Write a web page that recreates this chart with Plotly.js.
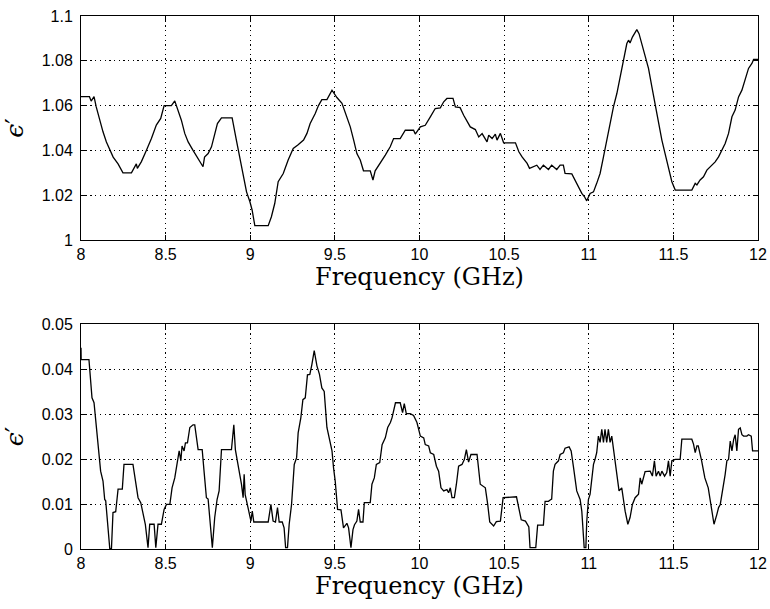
<!DOCTYPE html>
<html>
<head>
<meta charset="utf-8">
<script src="https://cdn.plot.ly/plotly-3.0.1.min.js"></script>
<style>
  html, body { margin: 0; padding: 0; background: #fff; }
  #chart { width: 770px; height: 609px; }
</style>
</head>
<body>
<div id="chart"></div>
<script>
// ---- Data ----
// Upper panel: real permittivity vs frequency
const freqTop = [
  8.000, 8.050, 8.060, 8.077, 8.090, 8.110, 8.130, 8.150, 8.170, 8.190,
  8.219, 8.248, 8.298, 8.327, 8.333, 8.357, 8.386, 8.416, 8.445, 8.471,
  8.491, 8.534, 8.554, 8.574, 8.593, 8.613, 8.633, 8.662, 8.692, 8.721,
  8.730, 8.751, 8.771, 8.790, 8.806, 8.830, 8.893, 8.918, 8.938, 8.958,
  8.978, 8.998, 9.011, 9.027, 9.106, 9.125, 9.145, 9.165, 9.195, 9.224,
  9.254, 9.283, 9.315, 9.335, 9.354, 9.384, 9.403, 9.423, 9.453, 9.483,
  9.512, 9.542, 9.561, 9.591, 9.611, 9.630, 9.650, 9.669, 9.709, 9.725,
  9.738, 9.768, 9.798, 9.827, 9.847, 9.886, 9.916, 9.965, 9.975, 10.005,
  10.034, 10.064, 10.093, 10.123, 10.143, 10.162, 10.198, 10.212, 10.240, 10.261,
  10.281, 10.300, 10.330, 10.350, 10.370, 10.389, 10.399, 10.409, 10.429, 10.448,
  10.458, 10.478, 10.497, 10.567, 10.587, 10.606, 10.636, 10.650, 10.693, 10.712,
  10.732, 10.762, 10.781, 10.811, 10.831, 10.850, 10.860, 10.900, 10.919, 10.939,
  10.959, 10.975, 10.988, 11.008, 11.028, 11.047, 11.067, 11.087, 11.106, 11.126,
  11.146, 11.166, 11.185, 11.205, 11.225, 11.235, 11.244, 11.258, 11.270, 11.284,
  11.297, 11.313, 11.333, 11.353, 11.373, 11.392, 11.412, 11.432, 11.451, 11.471,
  11.491, 11.511, 11.609, 11.629, 11.639, 11.658, 11.678, 11.698, 11.727, 11.747,
  11.767, 11.787, 11.806, 11.826, 11.846, 11.865, 11.885, 11.905, 11.925, 11.944,
  11.964, 11.974, 12.000
];
const epsTop = [
  1.0640, 1.0640, 1.0620, 1.0640, 1.0594, 1.0535, 1.0483, 1.0438, 1.0400, 1.0370,
  1.0340, 1.0300, 1.0300, 1.0340, 1.0320, 1.0350, 1.0400, 1.0453, 1.0513, 1.0543,
  1.0600, 1.0600, 1.0621, 1.0580, 1.0535, 1.0476, 1.0438, 1.0400, 1.0364, 1.0327,
  1.0370, 1.0386, 1.0416, 1.0468, 1.0520, 1.0545, 1.0545, 1.0446, 1.0370, 1.0282,
  1.0215, 1.0171, 1.0134, 1.0064, 1.0064, 1.0104, 1.0164, 1.0260, 1.0297, 1.0357,
  1.0409, 1.0425, 1.0446, 1.0476, 1.0520, 1.0565, 1.0600, 1.0627, 1.0627, 1.0669,
  1.0636, 1.0610, 1.0565, 1.0505, 1.0446, 1.0386, 1.0357, 1.0309, 1.0309, 1.0268,
  1.0309, 1.0342, 1.0379, 1.0416, 1.0453, 1.0453, 1.0490, 1.0490, 1.0473, 1.0505,
  1.0512, 1.0550, 1.0587, 1.0590, 1.0617, 1.0632, 1.0632, 1.0594, 1.0591, 1.0557,
  1.0527, 1.0505, 1.0493, 1.0460, 1.0475, 1.0453, 1.0438, 1.0468, 1.0453, 1.0473,
  1.0446, 1.0476, 1.0434, 1.0434, 1.0394, 1.0371, 1.0342, 1.0320, 1.0334, 1.0315,
  1.0334, 1.0315, 1.0334, 1.0315, 1.0334, 1.0334, 1.0297, 1.0295, 1.0268, 1.0238,
  1.0208, 1.0193, 1.0175, 1.0208, 1.0215, 1.0253, 1.0297, 1.0371, 1.0446, 1.0513,
  1.0594, 1.0654, 1.0728, 1.0802, 1.0877, 1.0892, 1.0880, 1.0906, 1.0921, 1.0939,
  1.0921, 1.0877, 1.0832, 1.0766, 1.0684, 1.0610, 1.0520, 1.0446, 1.0386, 1.0327,
  1.0260, 1.0223, 1.0223, 1.0253, 1.0246, 1.0268, 1.0282, 1.0312, 1.0334, 1.0349,
  1.0371, 1.0400, 1.0431, 1.0476, 1.0550, 1.0580, 1.0639, 1.0669, 1.0720, 1.0766,
  1.0788, 1.0806, 1.0806
];

// Lower panel
const freqBottom = [
  8.000, 8.001, 8.047, 8.057, 8.065, 8.077, 8.090, 8.105, 8.116, 8.130,
  8.140, 8.146, 8.170, 8.180, 8.189, 8.205, 8.219, 8.244, 8.254, 8.307,
  8.327, 8.337, 8.353, 8.367, 8.380, 8.396, 8.406, 8.432, 8.442, 8.455,
  8.475, 8.491, 8.505, 8.525, 8.538, 8.554, 8.568, 8.580, 8.590, 8.597,
  8.609, 8.617, 8.629, 8.643, 8.662, 8.672, 8.692, 8.716, 8.727, 8.741,
  8.751, 8.761, 8.776, 8.790, 8.804, 8.816, 8.830, 8.889, 8.903, 8.912,
  8.928, 8.948, 8.958, 8.964, 8.970, 8.978, 8.992, 9.004, 9.012, 9.021,
  9.106, 9.122, 9.135, 9.149, 9.161, 9.171, 9.189, 9.200, 9.209, 9.220,
  9.230, 9.244, 9.260, 9.274, 9.283, 9.299, 9.311, 9.325, 9.338, 9.352,
  9.364, 9.378, 9.394, 9.409, 9.423, 9.437, 9.453, 9.468, 9.483, 9.492,
  9.502, 9.516, 9.536, 9.551, 9.571, 9.581, 9.595, 9.607, 9.616, 9.630,
  9.640, 9.650, 9.666, 9.674, 9.709, 9.719, 9.733, 9.745, 9.765, 9.779,
  9.798, 9.812, 9.828, 9.838, 9.858, 9.886, 9.900, 9.910, 9.922, 9.945,
  9.965, 9.985, 10.005, 10.025, 10.034, 10.054, 10.064, 10.084, 10.100, 10.113,
  10.127, 10.143, 10.162, 10.172, 10.182, 10.192, 10.206, 10.218, 10.231, 10.251,
  10.265, 10.277, 10.290, 10.304, 10.340, 10.359, 10.375, 10.389, 10.403, 10.415,
  10.438, 10.454, 10.478, 10.494, 10.573, 10.587, 10.601, 10.626, 10.646, 10.653,
  10.687, 10.698, 10.732, 10.742, 10.762, 10.772, 10.781, 10.791, 10.801, 10.821,
  10.831, 10.850, 10.860, 10.884, 10.896, 10.909, 10.929, 10.949, 10.959, 10.973,
  10.983, 10.988, 10.998, 11.008, 11.028, 11.037, 11.047, 11.057, 11.067, 11.077,
  11.087, 11.096, 11.106, 11.116, 11.126, 11.136, 11.152, 11.166, 11.179, 11.195,
  11.215, 11.231, 11.244, 11.258, 11.274, 11.294, 11.304, 11.313, 11.323, 11.333,
  11.363, 11.376, 11.388, 11.398, 11.412, 11.422, 11.432, 11.448, 11.461, 11.471,
  11.481, 11.491, 11.511, 11.540, 11.550, 11.609, 11.619, 11.629, 11.639, 11.647,
  11.667, 11.686, 11.706, 11.716, 11.730, 11.740, 11.757, 11.767, 11.777, 11.787,
  11.796, 11.806, 11.816, 11.826, 11.836, 11.846, 11.856, 11.865, 11.875, 11.885,
  11.895, 11.905, 11.915, 11.934, 11.944, 11.960, 11.968, 12.000
];
const epsBottom = [
  0.0447, 0.0421, 0.0421, 0.0366, 0.0336, 0.0325, 0.0277, 0.0225, 0.0173, 0.0151,
  0.0110, 0.0107, 0.0001, 0.0001, 0.0081, 0.0083, 0.0133, 0.0133, 0.0188, 0.0188,
  0.0144, 0.0114, 0.0103, 0.0077, 0.0055, 0.0003, 0.0055, 0.0055, 0.0003, 0.0055,
  0.0055, 0.0088, 0.0099, 0.0099, 0.0136, 0.0158, 0.0196, 0.0218, 0.0196, 0.0229,
  0.0218, 0.0236, 0.0236, 0.0270, 0.0276, 0.0276, 0.0221, 0.0221, 0.0173, 0.0114,
  0.0111, 0.0070, 0.0003, 0.0070, 0.0110, 0.0129, 0.0221, 0.0221, 0.0276, 0.0221,
  0.0188, 0.0144, 0.0114, 0.0166, 0.0121, 0.0106, 0.0084, 0.0062, 0.0084, 0.0060,
  0.0060, 0.0099, 0.0062, 0.0060, 0.0092, 0.0060, 0.0060, 0.0047, 0.0003, 0.0003,
  0.0055, 0.0099, 0.0188, 0.0203, 0.0258, 0.0292, 0.0332, 0.0336, 0.0387, 0.0388,
  0.0410, 0.0441, 0.0407, 0.0388, 0.0358, 0.0350, 0.0270, 0.0240, 0.0218, 0.0181,
  0.0151, 0.0088, 0.0087, 0.0047, 0.0057, 0.0047, 0.0003, 0.0043, 0.0054, 0.0062,
  0.0088, 0.0060, 0.0060, 0.0103, 0.0103, 0.0144, 0.0158, 0.0188, 0.0192, 0.0232,
  0.0247, 0.0270, 0.0281, 0.0292, 0.0325, 0.0325, 0.0303, 0.0323, 0.0301, 0.0301,
  0.0297, 0.0281, 0.0251, 0.0247, 0.0232, 0.0229, 0.0214, 0.0210, 0.0184, 0.0173,
  0.0136, 0.0129, 0.0132, 0.0125, 0.0136, 0.0114, 0.0114, 0.0144, 0.0184, 0.0188,
  0.0199, 0.0221, 0.0193, 0.0210, 0.0210, 0.0144, 0.0140, 0.0136, 0.0099, 0.0060,
  0.0051, 0.0061, 0.0062, 0.0114, 0.0116, 0.0092, 0.0065, 0.0062, 0.0049, 0.0003,
  0.0003, 0.0053, 0.0053, 0.0106, 0.0106, 0.0109, 0.0111, 0.0173, 0.0188, 0.0196,
  0.0210, 0.0214, 0.0224, 0.0227, 0.0218, 0.0184, 0.0129, 0.0110, 0.0084, 0.0003,
  0.0003, 0.0060, 0.0110, 0.0122, 0.0188, 0.0199, 0.0214, 0.0251, 0.0237, 0.0266,
  0.0237, 0.0266, 0.0237, 0.0266, 0.0237, 0.0251, 0.0203, 0.0166, 0.0129, 0.0136,
  0.0084, 0.0055, 0.0070, 0.0099, 0.0114, 0.0122, 0.0158, 0.0144, 0.0162, 0.0172,
  0.0173, 0.0162, 0.0196, 0.0162, 0.0173, 0.0162, 0.0173, 0.0162, 0.0170, 0.0196,
  0.0162, 0.0196, 0.0199, 0.0199, 0.0244, 0.0244, 0.0233, 0.0214, 0.0229, 0.0229,
  0.0196, 0.0158, 0.0136, 0.0111, 0.0077, 0.0055, 0.0077, 0.0092, 0.0099, 0.0122,
  0.0136, 0.0166, 0.0196, 0.0199, 0.0240, 0.0218, 0.0243, 0.0254, 0.0218, 0.0266,
  0.0269, 0.0254, 0.0251, 0.0251, 0.0254, 0.0251, 0.0218, 0.0218
];

// Tick values and labels
const xTickVals = [8, 8.5, 9, 9.5, 10, 10.5, 11, 11.5, 12];
const xTickText = ['8', '8.5', '9', '9.5', '10', '10.5', '11', '11.5', '12'];
const topYTickVals = [1, 1.02, 1.04, 1.06, 1.08, 1.1];
const topYTickText = ['1', '1.02', '1.04', '1.06', '1.08', '1.1'];
const bottomYTickVals = [0, 0.01, 0.02, 0.03, 0.04, 0.05];
const bottomYTickText = ['0', '0.01', '0.02', '0.03', '0.04', '0.05'];

const xTitle = 'Frequency (GHz)';
const yTitle = '<i>ϵ</i>′';

// ---- Styling ----
const tickFont = { family: '"Liberation Sans", Arial, Helvetica, sans-serif', size: 16, color: '#000' };
const xTitleFont = { family: '"DejaVu Serif", "Liberation Serif", serif', size: 24, color: '#000' };
const yTitleFont = { family: '"DejaVu Serif", "Liberation Serif", serif', size: 25, color: '#000' };

function xAxis(anchor) {
  return {
    anchor: anchor,
    range: [8, 12],
    tickmode: 'array', tickvals: xTickVals, ticktext: xTickText,
    ticks: 'inside', ticklen: 5, tickcolor: '#000', tickwidth: 1,
    showline: true, linecolor: '#000', linewidth: 1, mirror: 'ticks',
    showgrid: true, gridcolor: '#000', gridwidth: 1, griddash: '1.3px,3.4px',
    zeroline: false, tickfont: tickFont, ticklabelstandoff: 0,
    title: { text: xTitle, font: xTitleFont, standoff: 4 }
  };
}
function yAxis(anchor, range, vals, text) {
  return {
    anchor: anchor,
    range: range,
    tickmode: 'array', tickvals: vals, ticktext: text,
    ticks: 'inside', ticklen: 5, tickcolor: '#000', tickwidth: 1,
    showline: true, linecolor: '#000', linewidth: 1, mirror: 'ticks',
    showgrid: true, gridcolor: '#000', gridwidth: 1, griddash: '1.3px,3.4px',
    zeroline: false, tickfont: tickFont, ticklabelstandoff: 4,
    title: { text: yTitle, font: yTitleFont, standoff: 20 }
  };
}

const lineStyle = { color: '#000', width: 1.3, shape: 'linear' };

const traces = [
  { x: freqTop, y: epsTop, type: 'scatter', mode: 'lines', line: lineStyle, xaxis: 'x', yaxis: 'y', hoverinfo: 'x+y' },
  { x: freqBottom, y: epsBottom, type: 'scatter', mode: 'lines', line: lineStyle, xaxis: 'x2', yaxis: 'y2', hoverinfo: 'x+y' }
];

const xa1 = xAxis('y'); xa1.domain = [0, 1];
const xa2 = xAxis('y2'); xa2.domain = [0, 1];
const ya1 = yAxis('x', [1, 1.1], topYTickVals, topYTickText); ya1.domain = [0.5797, 1];
const ya2 = yAxis('x2', [0, 0.05], bottomYTickVals, bottomYTickText); ya2.domain = [0, 0.4221];

const layout = {
  width: 770, height: 609,
  margin: { l: 81, r: 12, t: 16, b: 60 },
  paper_bgcolor: '#fff', plot_bgcolor: '#fff',
  showlegend: false,
  xaxis: xa1, yaxis: ya1,
  xaxis2: xa2, yaxis2: ya2
};

Plotly.newPlot('chart', traces, layout, { displayModeBar: false, staticPlot: true });
</script>
</body>
</html>
